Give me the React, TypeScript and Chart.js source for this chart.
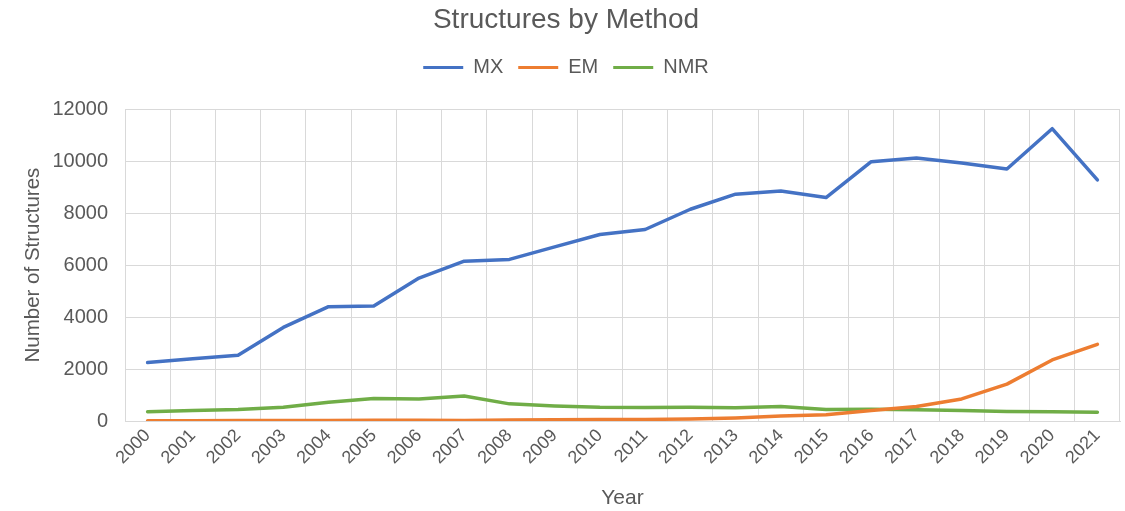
import React, { useEffect, useRef } from "react";
import { Chart, registerables } from "chart.js";

Chart.register(...registerables);

const years = ["2000","2001","2002","2003","2004","2005","2006","2007","2008","2009","2010","2011","2012","2013","2014","2015","2016","2017","2018","2019","2020","2021"];
const mxValues = [2250, 2400, 2530, 3600, 4400, 4430, 5500, 6150, 6220, 6700, 7180, 7370, 8150, 8730, 8850, 8600, 9980, 10120, 9930, 9700, 11250, 9280];
const emValues = [10, 10, 15, 20, 15, 25, 30, 20, 40, 50, 60, 60, 80, 120, 190, 240, 400, 560, 850, 1420, 2350, 2950];
const nmrValues = [360, 400, 440, 530, 720, 870, 850, 960, 660, 580, 530, 520, 530, 510, 560, 440, 450, 430, 400, 370, 360, 340];
const yTicks = [0, 2000, 4000, 6000, 8000, 10000, 12000];

const FONT = "'Liberation Sans', Arial, sans-serif";
const TEXT = "#595959";
const GRID = "#d9d9d9";

export default function App() {
  const ref = useRef<HTMLCanvasElement | null>(null);
  useEffect(() => {
    if (!ref.current) return;
    const mk = (label: string, data: number[], color: string) => ({
      label,
      data,
      borderColor: color,
      backgroundColor: color,
      borderWidth: 3.5,
      pointRadius: 0,
      tension: 0,
      borderJoinStyle: "round" as const,
      borderCapStyle: "round" as const,
    });
    const chart = new Chart(ref.current, {
      type: "line",
      data: {
        labels: years,
        datasets: [
          mk("MX", mxValues, "#4472C4"),
          mk("EM", emValues, "#ED7D31"),
          mk("NMR", nmrValues, "#70AD47"),
        ],
      },
      options: {
        responsive: false,
        animation: false,
        devicePixelRatio: 1,
        layout: { padding: { left: 12, right: 5, top: 0, bottom: 0 } },
        plugins: {
          title: {
            display: true,
            text: "Structures by Method",
            color: TEXT,
            font: { family: FONT, size: 28, weight: "normal", lineHeight: 1.2 },
            padding: { top: 3, bottom: 6 },
          },
          subtitle: {
            display: true,
            text: " ",
            weight: 500,
            font: { family: FONT, size: 10, lineHeight: 1 },
            padding: { top: 0, bottom: 11.6 },
          },
          legend: {
            display: true,
            position: "top",
            labels: {
              color: TEXT,
              font: { family: FONT, size: 20 },
              boxWidth: 40,
              boxHeight: 3,
              padding: 15,
              generateLabels: (c: any) =>
                Chart.defaults.plugins.legend.labels
                  .generateLabels(c)
                  .map((l: any) => ({ ...l, lineWidth: 0 })),
            },
          },
          tooltip: { enabled: false },
        },
        scales: {
          x: {
            type: "category",
            offset: true,
            grid: { offset: true, color: GRID, drawTicks: false, lineWidth: 1 },
            border: { display: true, color: GRID },
            ticks: {
              color: TEXT,
              font: { family: FONT, size: 18 },
              maxRotation: 45,
              minRotation: 45,
              autoSkip: false,
              padding: 4,
            },
            title: {
              display: true,
              text: "Year",
              color: TEXT,
              font: { family: FONT, size: 21 },
              padding: { top: 0, bottom: 0 },
            },
            afterFit: (s: any) => {
              s.height = 90;
            },
          },
          y: {
            min: 0,
            max: 12000,
            grid: { color: GRID, drawTicks: false, lineWidth: 1 },
            border: { display: true, color: GRID },
            ticks: {
              color: TEXT,
              font: { family: FONT, size: 20 },
              stepSize: 2000,
              padding: 17,
              callback: (v: any) => (yTicks.includes(Number(v)) ? String(v) : ""),
            },
            title: {
              display: true,
              text: "Number of Structures",
              color: TEXT,
              font: { family: FONT, size: 20.5 },
              padding: { top: 9, bottom: 0 },
            },
            afterFit: (s: any) => {
              s.width = 113;
            },
          },
        },
      } as any,
    });
    return () => chart.destroy();
  }, []);
  return (
    <div style={{ position: "absolute", left: 0, top: 0, width: 1125, height: 511, background: "#fff" }}>
      <canvas ref={ref} width={1125} height={511} style={{ display: "block" }} />
    </div>
  );
}
